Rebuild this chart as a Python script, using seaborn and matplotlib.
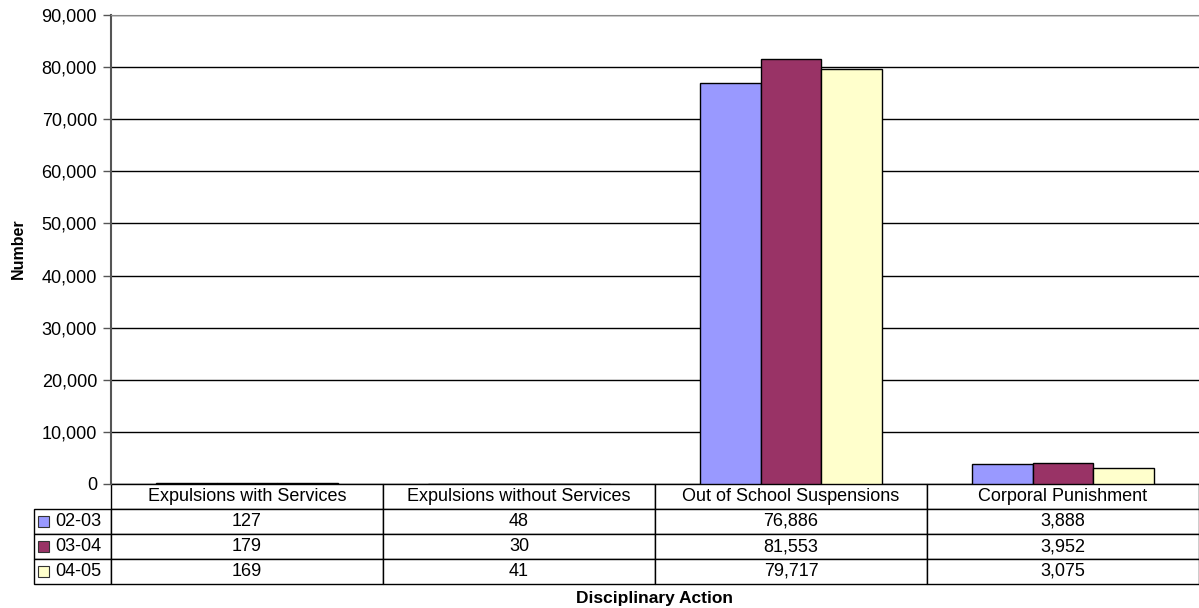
import pandas as pd
import seaborn as sns
import matplotlib.pyplot as plt
from matplotlib.patches import Rectangle
from matplotlib.ticker import FuncFormatter

actions = ["Expulsions with Services", "Expulsions without Services",
           "Out of School Suspensions", "Corporal Punishment"]
years = ["02-03", "03-04", "04-05"]
v_0203 = [127, 48, 76886, 3888]
v_0304 = [179, 30, 81553, 3952]
v_0405 = [169, 41, 79717, 3075]
colors = ["#9999ff", "#993366", "#ffffcc"]

df = pd.DataFrame({
    "action": actions * 3,
    "year": [y for y in years for _ in actions],
    "count": v_0203 + v_0304 + v_0405,
})

sns.set_style("white")
plt.rcParams["font.family"] = ["Liberation Sans", "DejaVu Sans"]
plt.rcParams["text.color"] = "black"
plt.rcParams["ytick.labelcolor"] = "black"

fig = plt.figure(figsize=(11.99, 6.08), dpi=100)
ax = fig.add_axes([111 / 1199, 1 - 484 / 608, 1 - 111 / 1199, (484 - 15) / 608])

sns.barplot(data=df, x="action", y="count", hue="year", order=actions,
            hue_order=years, palette=colors, saturation=1, width=0.67,
            edgecolor="black", linewidth=1, ax=ax, legend=False, zorder=3)

ax.set_ylim(0, 90000)
ax.set_xlim(-0.5, 3.5)
ax.set_yticks(range(0, 90001, 10000))
ax.yaxis.set_major_formatter(FuncFormatter(lambda v, p: f"{int(v):,}"))
ax.grid(axis="y", color="black", linewidth=1, zorder=0)
ax.tick_params(axis="y", left=True, length=6, width=1, color="#555555",
               labelsize=13, labelcolor="black", pad=4)
ax.set_xticks([])
ax.set_xlabel("")
ax.set_ylabel("")
for s in ["right", "bottom"]:
    ax.spines[s].set_visible(False)
ax.spines["top"].set_color("#888888")
ax.spines["left"].set_color("#555555")
ax.spines["left"].set_linewidth(1.5)

fig.text(18 / 1199, 1 - 249 / 608, "Number", rotation=90, ha="center",
         va="center", fontsize=11.5, fontweight="bold")

# data table under the plot; first column holds the series names
rows = [[y] + [f"{v:,}" for v in vals]
        for y, vals in zip(years, (v_0203, v_0304, v_0405))]
lw = 77 / 1088
h = 100 / 469
tbl = ax.table(cellText=rows, colLabels=[""] + actions,
               colWidths=[lw, 0.25, 0.25, 0.25, 0.25],
               cellLoc="center", bbox=[-lw, -h, 1 + lw, h])
tbl.auto_set_font_size(False)
tbl.set_fontsize(13)
for (r, c), cell in tbl.get_celld().items():
    cell.set_linewidth(1)
    cell.set_edgecolor("black")
    cell.get_text().set_color("black")
    if c == 0:
        if r == 0:
            cell.visible_edges = ""
        else:
            cell._loc = "left"
            cell.PAD = 0.27
            cell.get_text().set_horizontalalignment("left")

# colour swatches next to the row labels
row_h = h / 4
for i, col in enumerate(colors):
    yc = -h + row_h * (2.5 - i)
    ax.add_patch(Rectangle((-73 / 1088, yc - 0.011), 11 / 1088, 0.022,
                           transform=ax.transAxes, facecolor=col,
                           edgecolor="#333333", linewidth=0.8, clip_on=False,
                           zorder=5))

fig.text((111 + 1199) / 2 / 1199, 1 - 599 / 608, "Disciplinary Action",
         ha="center", va="center", fontsize=12.5, fontweight="bold")

fig.savefig("out.png", dpi=100)
